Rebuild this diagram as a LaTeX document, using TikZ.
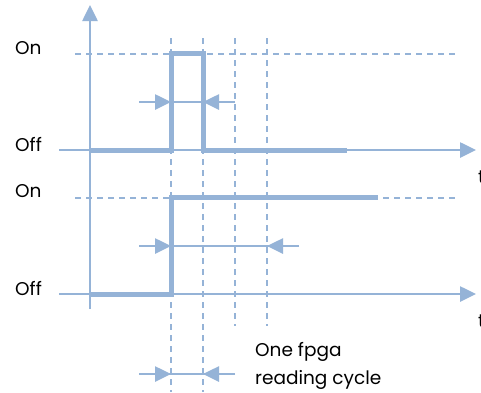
\documentclass[tikz,border=0pt]{standalone}
\usepackage{fontspec}
\setmainfont{Poppins}
\usetikzlibrary{arrows.meta}
\definecolor{sig}{HTML}{95B3D7}
\tikzset{
  thinline/.style={draw=sig, line width=2.6pt},
  thickline/.style={draw=sig, line width=5pt},
  guide/.style={draw=sig, line width=2pt, dash pattern=on 6pt off 5pt},
  tip/.style={-{Triangle[length=16pt,width=15pt]}},
  label/.style={font=\fontsize{18.5}{22}\selectfont, text=black, inner sep=0pt, anchor=west},
}
\begin{document}
\begin{tikzpicture}[x=1pt,y=-1pt]
\useasboundingbox (0,0) rectangle (481,392);
\clip (0,0) rectangle (481,392);
\fill[white] (0,0) rectangle (481,392);

% vertical guides at the sampling instants
\draw[guide] (171,38) -- (171,392);
\draw[guide] (203,38) -- (203,392);
\draw[guide] (235,38) -- (235,326);
\draw[guide] (267,38) -- (267,326);

% "on" levels
\draw[guide] (75,53.5) -- (459,53.5);
\draw[guide] (75,197.5) -- (459,197.5);

% axes
\coordinate (yb) at (90,309);
\coordinate (yt) at (90,5);
\draw[thinline, tip] (yb) -- (yt);
\coordinate (xa0) at (59,150);
\coordinate (xa1) at (476,150);
\draw[thinline, tip] (xa0) -- (xa1);
\coordinate (xb0) at (59,294);
\coordinate (xb1) at (476,294);
\draw[thinline, tip] (xb0) -- (xb1);

% top signal: short pulse
\draw[thickline, line join=miter] (90,150) -- (171,150) -- (171,53.5) -- (203,53.5) -- (203,150) -- (347,150);
% bottom signal: step
\draw[thickline, line join=miter] (90,294) -- (171,294) -- (171,197.5) -- (378,197.5);

% interval markers
\coordinate (a0) at (139,102);
\coordinate (a1) at (171,102);
\coordinate (a2) at (203,102);
\coordinate (a3) at (235,102);
\draw[thinline] (a0) -- (a3);
\draw[thinline, tip] (a0) -- (a1);
\draw[thinline, tip] (a3) -- (a2);

\coordinate (b0) at (139,246);
\coordinate (b1) at (171,246);
\coordinate (b2) at (267,246);
\coordinate (b3) at (299,246);
\draw[thinline] (b0) -- (b3);
\draw[thinline, tip] (b0) -- (b1);
\draw[thinline, tip] (b3) -- (b2);

\coordinate (c0) at (139,374);
\coordinate (c1) at (171,374);
\coordinate (c2) at (203,374);
\coordinate (c3) at (235,374);
\draw[thinline] (c0) -- (c3);
\draw[thinline, tip] (c0) -- (c1);
\draw[thinline, tip] (c3) -- (c2);

% labels
\node[label] (on1) at (15,48) {On};
\node[label] (off1) at (15,144) {Off};
\node[label] (on2) at (15,191) {On};
\node[label] (off2) at (15,288) {Off};
\node[label] (ta) at (478,177) {t};
\node[label] (tb) at (478,321) {t};
\node[label] (cyc1) at (255,352) {One fpga};
\node[label] (cyc2) at (255,380) {reading cycle};
\end{tikzpicture}
\end{document}
